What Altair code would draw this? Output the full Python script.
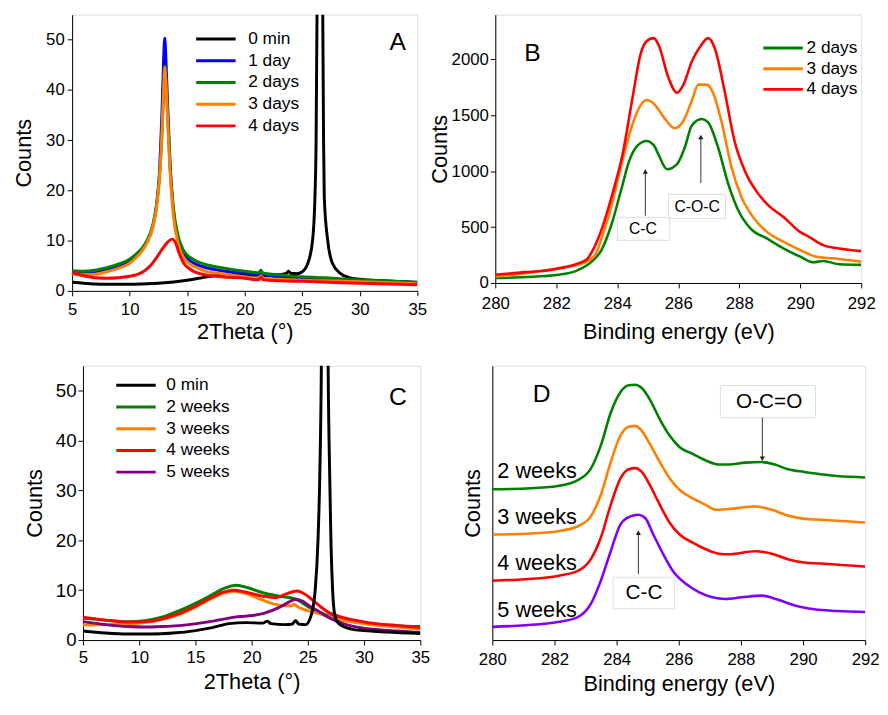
import altair as alt
import pandas as pd

FONT = "Liberation Sans"

a_names = ["0 min", "1 day", "2 days", "3 days", "4 days"]
a_colors = ["#000000", "#0000FF", "#008000", "#FF8000", "#FF0000"]
a_x_0min = [5, 6, 7, 8, 9, 10, 11, 12, 13, 14, 15, 16, 17, 18, 19, 20, 21, 21.3, 21.5, 22, 23,
            23.6, 23.8, 24.0, 24.5, 25, 25.5, 25.9, 26.1, 26.2, 26.28, 26.53, 26.78, 26.85, 26.91,
            27.2, 27.6, 28.3, 29, 30, 32, 35]
a_y_0min = [1.7, 1.5, 1.35, 1.3, 1.3, 1.3, 1.35, 1.45, 1.6, 1.8, 2.1, 2.5, 2.9, 3.1, 3.2, 3.2, 3.1,
            3.4, 3.1, 3.1, 3.2, 3.5, 3.9, 3.5, 3.4, 3.8, 5.6, 10.2, 18.7, 30, 55, 200, 55, 30, 18.7,
            10.2, 5.6, 3.5, 2.7, 2.3, 2.0, 1.7]
a_x_days = [5, 6, 7, 8, 9, 10, 10.5, 11, 11.5, 12, 12.3, 12.6, 12.8, 12.95, 13.05, 13.15, 13.3,
            13.5, 13.8, 14.2, 14.7, 15.5, 16.5, 18, 20, 21.2, 21.4, 21.6, 23, 25, 27, 30, 33, 35]
a_y_1day = [3.7, 3.5, 3.6, 4.1, 4.8, 5.8, 6.8, 8.0, 9.8, 12.8, 16.5, 24, 35, 46, 50.3, 46, 37, 26,
            16, 10.3, 7.3, 5.6, 4.7, 4.0, 3.5, 3.2, 3.7, 3.2, 2.8, 2.5, 2.3, 2.0, 1.7, 1.5]
a_y_2days = [4.0, 3.9, 4.1, 4.6, 5.3, 6.3, 7.2, 8.3, 10, 13, 16.5, 23, 31, 40, 44.8, 42, 35, 25,
             16.5, 11, 8, 6.3, 5.3, 4.6, 3.9, 3.6, 4.1, 3.5, 3.2, 2.8, 2.6, 2.2, 1.9, 1.6]
a_y_3days = [3.4, 3.2, 3.3, 3.8, 4.5, 5.5, 6.5, 7.7, 9.5, 12.5, 16, 22.5, 31, 40, 44.5, 41.5, 34,
             24, 15, 9.5, 6.6, 5.0, 4.0, 3.4, 2.8, 2.5, 3.0, 2.5, 2.3, 2.1, 2.0, 1.8, 1.6, 1.4]
a_x_4days = [5, 6, 7, 8, 9, 10, 10.7, 11.3, 11.8, 12.3, 12.8, 13.3, 13.7, 14.0, 14.3, 14.7, 15.2,
             16.3, 18, 20, 21.2, 21.4, 21.6, 23, 25, 30, 35]
a_y_4days = [3.6, 3.0, 2.6, 2.5, 2.6, 2.9, 3.3, 4.0, 5.0, 6.5, 8.2, 9.7, 10.3, 9.5, 7.5, 5.5, 4.4,
             3.3, 2.8, 2.5, 2.2, 2.7, 2.2, 2.0, 1.9, 1.5, 1.2]

b_names = ["2 days", "3 days", "4 days"]
b_colors = ["#008000", "#FF8000", "#FF0000"]
b_x_2days = [280, 281, 282.08, 282.73, 283.16, 283.48, 283.8, 284.13, 284.4, 284.67, 284.96, 285.2,
             285.36, 285.63, 285.96, 286.22, 286.44, 286.77, 286.98, 287.3, 287.63, 287.95, 288.38,
             288.92, 289.46, 290.0, 290.43, 290.75, 291.28, 292]
b_y_2days = [44, 53, 74, 118, 191, 294, 514, 836, 1099, 1231, 1270, 1231, 1143, 1018, 1064, 1217,
             1407, 1466, 1437, 1217, 894, 660, 484, 396, 308, 235, 185, 197, 167, 162]
b_x_3days = [280, 281, 282.08, 283, 283.3, 283.53, 283.75, 284.07, 284.4, 284.72, 284.96, 285.2,
             285.53, 285.88, 286.17, 286.44, 286.66, 286.93, 287.14, 287.41, 287.74, 288.06, 288.5,
             288.92, 289.46, 290.0, 290.54, 291.28, 292]
b_y_3days = [59, 88, 132, 190, 262, 440, 631, 982, 1334, 1569, 1636, 1604, 1481, 1384, 1451, 1627,
             1774, 1774, 1701, 1451, 1041, 777, 572, 455, 367, 294, 235, 215, 191]
b_x_4days = [280, 281, 282, 282.98, 283.2, 283.53, 283.85, 284.18, 284.5, 284.77, 284.99, 285.2,
             285.36, 285.68, 285.96, 286.17, 286.44, 286.71, 286.98, 287.2, 287.52, 287.84, 288.17,
             288.6, 288.92, 289.46, 290.0, 290.3, 290.75, 291.28, 292]
b_y_4days = [74, 97, 126, 206, 294, 513, 806, 1158, 1657, 2053, 2170, 2190, 2126, 1833, 1701, 1774,
             1979, 2111, 2190, 2097, 1715, 1275, 1011, 806, 704, 587, 455, 411, 338, 308, 285]

c_names = ["0 min", "2 weeks", "3 weeks", "4 weeks", "5 weeks"]
c_colors = ["#000000", "#008000", "#FF8000", "#FF0000", "#800080"]
c_x_0min = [5, 7, 9, 11, 13, 15, 16.5, 18, 19.5, 21, 21.4, 21.7, 23, 23.6, 23.9, 24.2, 24.8, 25.3,
            25.65, 25.9, 26.05, 26.2, 26.5, 26.8, 26.95, 27.05, 27.2, 27.4, 27.8, 28.9, 30, 32, 35]
c_y_0min = [1.8, 1.4, 1.2, 1.2, 1.4, 1.9, 2.5, 3.3, 3.5, 3.4, 3.8, 3.3, 3.1, 3.2, 3.9, 3.2, 3.1, 5.0,
            10, 20, 32, 55, 200, 55, 32, 20, 10, 5.0, 3.2, 2.2, 1.9, 1.6, 1.3]
c_x_2w = [5, 7, 9, 10.5, 12, 13, 14.3, 15.5, 16.3, 17.5, 18.6, 19.5, 21, 22.2, 23.9, 25.1, 26, 26.8,
          28, 29.4, 31, 33, 35]
c_y_2w = [4.4, 4.0, 3.7, 3.9, 4.6, 5.4, 6.6, 7.9, 8.9, 10.3, 11.0, 10.6, 9.5, 8.9, 8.2, 6.6, 5.6, 4.9,
          4.1, 3.6, 3.2, 2.9, 2.7]
c_x_3w = [5, 7, 9, 10.5, 12, 13.4, 15, 16.5, 17.5, 18.4, 19.5, 21, 22, 23, 23.6, 23.8, 24.0, 25, 26,
          27, 28, 29.4, 31, 33, 35]
c_y_3w = [3.0, 3.1, 3.2, 3.5, 4.1, 5.0, 6.6, 8.4, 9.4, 9.8, 9.3, 8.0, 7.2, 6.9, 6.9, 7.2, 6.8, 5.9,
          5.3, 4.6, 4.0, 3.5, 3.0, 2.6, 2.2]
c_x_4w = [5, 7, 9, 10.5, 12, 13.4, 15, 16.5, 17.5, 18.35, 19.5, 21, 22.15, 23, 24.05, 25, 25.65, 26.8,
          28, 29.4, 31, 33, 35]
c_y_4w = [4.6, 4.0, 3.6, 3.7, 4.2, 5.2, 6.8, 8.6, 9.6, 10.0, 9.6, 8.8, 8.5, 9.2, 9.85, 8.8, 7.6, 5.6,
          4.6, 3.9, 3.3, 2.9, 2.5]
c_x_5w = [5, 7, 9, 10.5, 12, 14, 16, 17.5, 18.5, 19.5, 21, 22.5, 23.3, 23.9, 24.5, 25.1, 26, 26.8,
          28, 29.4, 31, 33, 35]
c_y_5w = [3.7, 3.1, 2.7, 2.6, 2.7, 3.0, 3.6, 4.2, 4.6, 4.8, 5.3, 6.6, 7.6, 8.2, 7.8, 6.9, 5.7, 4.6,
          3.4, 2.6, 2.1, 1.8, 1.5]

d_names = ["2 weeks", "3 weeks", "4 weeks", "5 weeks"]
d_colors = ["#008000", "#FF8000", "#FF0000", "#8000FF"]
d_x_2w = [280, 281.06, 282.11, 282.75, 283.17, 283.49, 283.81, 284.12, 284.39, 284.6, 284.81, 285.07,
          285.39, 285.71, 286.03, 286.45, 286.87, 287.29, 287.61, 288.14, 288.67, 289.09, 289.51,
          290.04, 290.57, 291.1, 292]
d_y_2w = [55.0, 55.3, 56.2, 58.3, 62.5, 70.9, 82.9, 90.4, 92.9, 93.1, 91.9, 87.7, 80.5, 74.5, 70.3,
          67.9, 65.5, 64.0, 64.0, 64.7, 64.9, 64.0, 62.3, 61.3, 60.5, 59.8, 59.3]
d_x_3w = [280, 281.06, 282.11, 282.75, 283.17, 283.49, 283.81, 284.12, 284.39, 284.6, 284.81, 285.07,
          285.39, 285.71, 286.03, 286.45, 286.87, 287.19, 287.61, 288.46, 288.99, 289.51, 290.04,
          290.57, 292]
d_y_3w = [38.5, 38.8, 39.7, 41.5, 45.1, 52.9, 64.9, 74.5, 77.8, 78.1, 76.3, 71.5, 64.9, 58.9, 54.7,
          51.7, 49.3, 47.5, 47.8, 48.7, 47.5, 45.4, 44.2, 43.9, 42.9]
d_x_4w = [280, 281.06, 282.11, 282.75, 283.17, 283.49, 283.81, 284.12, 284.39, 284.6, 284.81, 285.07,
          285.39, 285.71, 286.03, 286.45, 286.87, 287.29, 287.61, 288.46, 288.99, 289.51, 290.04,
          290.57, 292]
d_y_4w = [21.6, 22.2, 23.4, 25.2, 29.5, 37.3, 49.3, 58.9, 62.3, 62.7, 61.3, 56.5, 49.3, 42.7, 38.5,
          35.5, 33.1, 31.5, 31.3, 32.4, 31.5, 29.5, 28.3, 27.9, 26.8]
d_x_5w = [280, 281.06, 282.11, 282.75, 283.17, 283.49, 283.81, 284.12, 284.44, 284.7, 284.92, 285.18,
          285.5, 285.81, 286.24, 286.66, 287.08, 287.5, 288.03, 288.67, 289.2, 289.73, 290.36, 291.1,
          292]
d_y_5w = [4.8, 5.4, 6.6, 8.4, 13.2, 21.6, 32.4, 42.1, 45.1, 45.7, 44.5, 38.5, 31.3, 25.2, 20.4, 17.4,
          15.6, 15.0, 15.6, 16.2, 14.7, 12.6, 11.2, 10.6, 10.2]

panel_letters = ["A", "B", "C", "D"]
letter_x = [33.29, 281.22, 33.0, 281.59]
letter_y = [49.5, 2055, 48.7, 89.7]

b_ann_text = ["C-C", "C-O-C"]
b_ann_x = [284.84, 286.62]
b_ann_y = [481, 683]
b_box_x1 = [284.0, 285.68]
b_box_x2 = [285.72, 287.55]
b_box_y1 = [382, 578]
b_box_y2 = [587, 792]
b_arrow_x = [284.92, 286.74]
b_arrow_y1 = [602, 894]
b_arrow_y2 = [997, 1305]

d_ann_text = ["C-C", "O-C=O"]
d_ann_x = [284.88, 288.91]
d_ann_y = [17.2, 86.9]
d_box_x1 = [283.89, 287.34]
d_box_x2 = [285.87, 290.4]
d_box_y1 = [11.4, 81.1]
d_box_y2 = [22.9, 92.8]
d_arrow_x = [284.7, 288.69]
d_arrow_y1 = [24.0, 81.1]
d_arrow_y2 = [39.1, 66.1]
d_arrow_shape = ["triangle-up", "triangle-down"]

d_week_x = [280.16, 280.16, 280.16, 280.16]
d_week_y = [61.5, 44.7, 27.9, 11.1]


def long_df(names, xs, ys):
    rows = []
    for n, xv, yv in zip(names, xs, ys):
        for a, b in zip(xv, yv):
            rows.append({"series": n, "x": a, "y": b})
    return pd.DataFrame(rows)


def steps(a, b, s):
    out = []
    v = a
    while v <= b + 1e-9:
        out.append(round(v, 4))
        v += s
    return out


def x_axis(vals, mod, title, lp, tp, fs=17):
    return alt.Axis(values=vals, labelExpr=f"datum.value % {mod} === 0 ? datum.label : ''",
                    format="d", title=title, grid=False, tickSize=5, tickColor="black",
                    domainColor="black", labelFont=FONT, labelFontSize=fs, labelColor="black",
                    labelPadding=lp, labelFlush=False, labelOverlap=False, titleFont=FONT,
                    titleFontSize=22, titleFontWeight="normal", titleColor="black",
                    titlePadding=tp)


def y_axis(vals, mod, title, lp, tp, fs=17):
    return alt.Axis(values=vals, labelExpr=f"datum.value % {mod} === 0 ? datum.label : ''",
                    format="d", title=title, grid=False, tickSize=5, tickColor="black",
                    domainColor="black", labelFont=FONT, labelFontSize=fs, labelColor="black",
                    labelPadding=lp, labelOverlap=False, titleFont=FONT, titleFontSize=22,
                    titleFontWeight="normal", titleColor="black", titlePadding=tp)


def legend(lx, ly, off, rp):
    return alt.Legend(orient="none", legendX=lx, legendY=ly, title=None, symbolType="M-4,0H4",
                      symbolSize=100, symbolStrokeWidth=3, labelFont=FONT, labelFontSize=17.5,
                      labelColor="black", labelOffset=off, rowPadding=rp, padding=0)


def lines(df, names, colors, xs, ys, xax, yax, leg, sw):
    return alt.Chart(df).mark_line(strokeWidth=sw, clip=True, interpolate="monotone").encode(
        x=alt.X("x:Q", scale=xs, axis=xax),
        y=alt.Y("y:Q", scale=ys, axis=yax),
        color=alt.Color("series:N", scale=alt.Scale(domain=names, range=colors), legend=leg),
    )


def letter(i, xs, ys):
    df = pd.DataFrame({"t": [panel_letters[i]], "x": [letter_x[i]], "y": [letter_y[i]]})
    return alt.Chart(df).mark_text(font=FONT, fontSize=25, color="black", align="center",
                                   baseline="middle").encode(
        x=alt.X("x:Q", scale=xs), y=alt.Y("y:Q", scale=ys), text="t:N")


def annotations(tx, xv, yv, bx1, bx2, by1, by2, ax, ay1, ay2, shapes, fs, xs, ys):
    box_df = pd.DataFrame({"x": bx1, "x2": bx2, "y": by1, "y2": by2})
    txt_df = pd.DataFrame({"t": tx, "x": xv, "y": yv})
    arr_df = pd.DataFrame({"x": ax, "y": ay1, "y2": ay2})
    tip_df = pd.DataFrame({"x": ax, "y": ay2, "s": shapes})
    boxes = alt.Chart(box_df).mark_rect(fill="white", stroke="#dcdcdc", strokeWidth=1).encode(
        x=alt.X("x:Q", scale=xs), x2="x2:Q", y=alt.Y("y:Q", scale=ys), y2="y2:Q")
    texts = alt.Chart(txt_df).mark_text(font=FONT, fontSize=fs, color="black", align="center",
                                        baseline="middle").encode(
        x=alt.X("x:Q", scale=xs), y=alt.Y("y:Q", scale=ys), text="t:N")
    rules = alt.Chart(arr_df).mark_rule(color="#333333", strokeWidth=1).encode(
        x=alt.X("x:Q", scale=xs), y=alt.Y("y:Q", scale=ys), y2="y2:Q")
    tips = alt.Chart(tip_df).mark_point(filled=True, color="#222222", size=28, opacity=1).encode(
        x=alt.X("x:Q", scale=xs), y=alt.Y("y:Q", scale=ys),
        shape=alt.Shape("s:N", scale=alt.Scale(domain=["triangle-up", "triangle-down"],
                                                 range=["triangle-up", "triangle-down"]),
                        legend=None))
    return [boxes, texts, rules, tips]


def spacer():
    return alt.Chart(pd.DataFrame({"x": [0]})).mark_point(opacity=0, size=1).encode(
        x=alt.X("x:Q", axis=None), y=alt.Y("x:Q", axis=None)
    ).properties(width=1, height=1, view=alt.ViewBackground(strokeOpacity=0))


xs_xrd = alt.Scale(domain=[5, 35], nice=False, zero=False)
ys_xrd = alt.Scale(domain=[0, 55], nice=False, zero=False)
xs_xps = alt.Scale(domain=[280, 292], nice=False, zero=False)
ys_b = alt.Scale(domain=[0, 2400], nice=False, zero=False)
ys_d = alt.Scale(domain=[0, 100], nice=False, zero=False)

xrd_ticks = steps(5, 35, 2.5)
xps_ticks = steps(280, 292, 1)

df_a = long_df(a_names, [a_x_0min, a_x_days, a_x_days, a_x_days, a_x_4days],
               [a_y_0min, a_y_1day, a_y_2days, a_y_3days, a_y_4days])
A = alt.layer(
    lines(df_a, a_names, a_colors, xs_xrd, ys_xrd,
          x_axis(xrd_ticks, 5, "2Theta (°)", 6, 4),
          y_axis(steps(0, 50, 5), 10, "Counts", 3, 10),
          legend(137, 16, 24, 3), 3),
    letter(0, xs_xrd, ys_xrd),
).properties(width=350, height=280)

df_b = long_df(b_names, [b_x_2days, b_x_3days, b_x_4days], [b_y_2days, b_y_3days, b_y_4days])
B = alt.layer(
    lines(df_b, b_names, b_colors, xs_xps, ys_b,
          x_axis(xps_ticks, 2, "Binding energy (eV)", 8, 10),
          y_axis(steps(0, 2250, 250), 500, "Counts", 2, 0),
          legend(283, 25, 15, 2), 2.6),
    *annotations(b_ann_text, b_ann_x, b_ann_y, b_box_x1, b_box_x2, b_box_y1, b_box_y2,
                 b_arrow_x, b_arrow_y1, b_arrow_y2, ["triangle-up", "triangle-up"], 16,
                 xs_xps, ys_b),
    letter(1, xs_xps, ys_b),
).properties(width=371, height=272)

df_c = long_df(["2 weeks", "3 weeks", "4 weeks", "5 weeks", "0 min"],
               [c_x_2w, c_x_3w, c_x_4w, c_x_5w, c_x_0min],
               [c_y_2w, c_y_3w, c_y_4w, c_y_5w, c_y_0min])
C = alt.layer(
    lines(df_c, c_names, c_colors, xs_xrd, ys_xrd,
          x_axis(xrd_ticks, 5, "2Theta (°)", 5, 6),
          y_axis(steps(0, 50, 5), 10, "Counts", 2, 9, fs=19),
          legend(45, 11, 22, 3), 3),
    letter(2, xs_xrd, ys_xrd),
).properties(width=342, height=278)

df_d = long_df(d_names, [d_x_2w, d_x_3w, d_x_4w, d_x_5w], [d_y_2w, d_y_3w, d_y_4w, d_y_5w])
week_df = pd.DataFrame({"t": d_names, "x": d_week_x, "y": d_week_y})
D = alt.layer(
    *annotations(d_ann_text, d_ann_x, d_ann_y, d_box_x1, d_box_x2, d_box_y1, d_box_y2,
                 d_arrow_x, d_arrow_y1, d_arrow_y2, d_arrow_shape, 21, xs_xps, ys_d),
    lines(df_d, d_names, d_colors, xs_xps, ys_d,
          x_axis(xps_ticks, 2, "Binding energy (eV)", 7, 6),
          alt.Axis(labels=False, ticks=False, grid=False, title="Counts", domainColor="black",
                   titleFont=FONT, titleFontSize=22, titleFontWeight="normal",
                   titleColor="black", titlePadding=8),
          None, 2.6),
    alt.Chart(week_df).mark_text(font=FONT, fontSize=22, color="black", align="left",
                                 baseline="middle").encode(
        x=alt.X("x:Q", scale=xs_xps), y=alt.Y("y:Q", scale=ys_d), text="t:N"),
    letter(3, xs_xps, ys_d),
).properties(width=378, height=278)

row1 = alt.hconcat(
    spacer(),
    alt.hconcat(A, B, spacing=0).resolve_scale(color="independent", shape="independent"),
    spacing=3)
row2 = alt.hconcat(
    spacer(),
    alt.hconcat(C, D, spacing=31).resolve_scale(color="independent", shape="independent"),
    spacing=14)

chart = alt.vconcat(row1, row2, spacing=22).resolve_scale(
    color="independent", shape="independent"
).properties(
    padding={"left": 0, "top": 1, "right": 0, "bottom": 0}
).configure_view(stroke="#333333", strokeWidth=1).configure(background="white")

chart.save("out.html", embed_options={"renderer": "svg", "actions": False})
